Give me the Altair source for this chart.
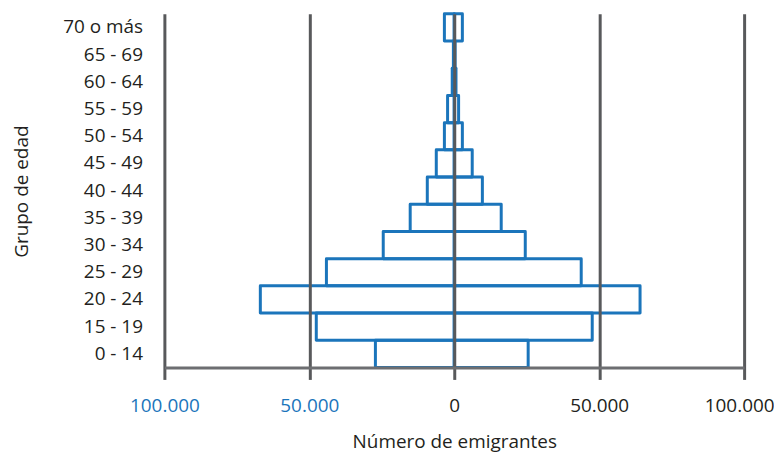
import altair as alt
import pandas as pd

ages = ["0 - 14", "15 - 19", "20 - 24", "25 - 29", "30 - 34", "35 - 39", "40 - 44",
        "45 - 49", "50 - 54", "55 - 59", "60 - 64", "65 - 69", "70 o más"]
left_vals = [27200, 47600, 66900, 44100, 24500, 15200, 9300, 6200, 3400, 2300, 700, 300, 3400]
right_vals = [25500, 47600, 64100, 43800, 24500, 16200, 9700, 6200, 2800, 1500, 600, 300, 2800]
tick_values = [-100000, -50000, 0, 50000, 100000]

rows = []
for a, l, r in zip(ages, left_vals, right_vals):
    rows.append({"edad": a, "lado": "izq", "valor": -l})
    rows.append({"edad": a, "lado": "der", "valor": r})
df = pd.DataFrame(rows)

BLUE = "#1b75bb"
DARK = "#231f20"
GRID = "#58595b"

chart = alt.Chart(df).mark_bar(
    fill="white", fillOpacity=0, stroke=BLUE, strokeWidth=3, strokeJoin="round"
).encode(
    x=alt.X(
        "valor:Q",
        scale=alt.Scale(domain=[-100000, 100000], nice=False),
        axis=alt.Axis(
            values=tick_values,
            grid=True, gridColor=GRID, gridWidth=3, gridOpacity=1,
            domainColor="#6d6e71", domainWidth=3,
            tickColor=GRID, tickWidth=3, tickSize=12,
            labelFontSize=19, labelPadding=17,
            labelColor={"condition": {"test": "datum.value < 0", "value": BLUE}, "value": DARK},
            labelOffset={"condition": {"test": "datum.value >= 100000", "value": -5}, "value": 0},
            labelExpr="replace(format(abs(datum.value), ',d'), ',', '.')",
            labelFlush=False,
            title="Número de emigrantes", titleFontSize=19, titleFontWeight="normal",
            titleColor=DARK, titlePadding=17,
            zindex=1,
        ),
    ),
    y=alt.Y(
        "edad:N",
        sort=ages[::-1],
        scale=alt.Scale(paddingInner=0, paddingOuter=0),
        axis=alt.Axis(
            domain=False, ticks=False, labelFontSize=19, labelColor=DARK, labelPadding=22,
            title="Grupo de edad", titleFontSize=19, titleFontWeight="normal", titleColor=DARK,
            titleX=-143, titleY=178, titleAlign="center", titleBaseline="middle",
        ),
    ),
).properties(
    width=582, height=355,
    autosize=alt.AutoSizeParams(type="none"),
    padding={"left": 157, "top": 5, "right": 30, "bottom": 85},
).configure(font="Open Sans").configure_view(stroke=None)

chart.save("out.html", embed_options={"renderer": "svg", "actions": False})
